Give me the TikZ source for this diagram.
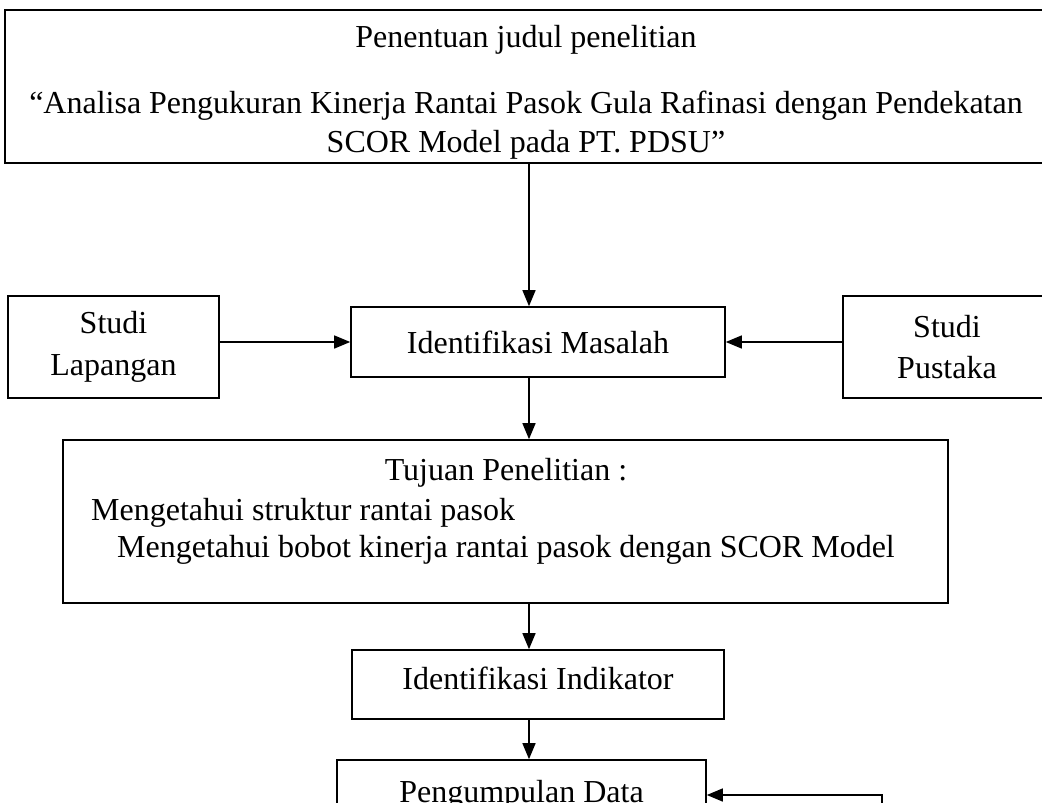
\documentclass[tikz,border=0pt]{standalone}
\usepackage{fontspec}
\setmainfont{Liberation Serif}
\usetikzlibrary{arrows.meta, positioning}

\begin{document}
\begin{tikzpicture}[x=1pt, y=-1pt, >={Triangle[length=16pt, width=13pt]},
    every node/.style={font=\fontsize{32}{37}\selectfont},
    kotak/.style={rectangle, draw=black, line width=1.6pt, inner sep=0pt, align=center},
    teks/.style={inner sep=0pt, anchor=base west},
    panah/.style={->, line width=1.4pt},
]
\clip (0,0) rectangle (1042,803);
\fill[white] (0,0) rectangle (1042,803);

% judul
\node[kotak, minimum width=1046pt, minimum height=153pt] (judul) at (528,86.5) {};
\node[inner sep=0pt, align=center, font=\fontsize{32}{39}\selectfont] (judulteks) at (526,92.5)
    {Penentuan judul penelitian\\[27pt]“Analisa Pengukuran Kinerja Rantai Pasok Gula Rafinasi dengan Pendekatan\\SCOR Model pada PT. PDSU”};

% baris identifikasi masalah
\node[kotak, minimum width=211pt, minimum height=102pt] (lapangan) at (113.5,347) {Studi\\[5pt]Lapangan};
\node[kotak, minimum width=374pt, minimum height=70pt] (masalah) at (538,342) {Identifikasi Masalah};
\node[kotak, minimum width=208pt, minimum height=102pt] (pustaka) at (947,347) {Studi\\[4pt]Pustaka};

% tujuan
\node[kotak, minimum width=885pt, minimum height=163pt] (tujuan) at (505.5,521.5) {};
\node[inner sep=0pt, anchor=base] (tujuanjudul) at (506,480) {Tujuan Penelitian :};
\node[teks] (tujuansatu) at (91,520) {Mengetahui struktur rantai pasok};
\node[teks] (tujuandua) at (117,557) {Mengetahui bobot kinerja rantai pasok dengan SCOR Model};

\node[kotak, minimum width=372pt, minimum height=69pt, text depth=12pt] (indikator) at (538,684.5) {Identifikasi Indikator};
\node[kotak, minimum width=369pt, minimum height=70pt] (kumpul) at (521.5,795) {Pengumpulan Data};

\coordinate (jalur) at (529,0);
\coordinate (bawah) at (882,840);

\draw[panah] (judul.south -| jalur) -- (masalah.north -| jalur);
\draw[panah] (lapangan.east |- masalah) -- (masalah.west);
\draw[panah] (pustaka.west |- masalah) -- (masalah.east);
\draw[panah] (masalah.south -| jalur) -- (tujuan.north -| jalur);
\draw[panah] (tujuan.south -| jalur) -- (indikator.north -| jalur);
\draw[panah] (indikator.south -| jalur) -- (kumpul.north -| jalur);
\draw[panah] (bawah) |- (kumpul.east);

\end{tikzpicture}
\end{document}
